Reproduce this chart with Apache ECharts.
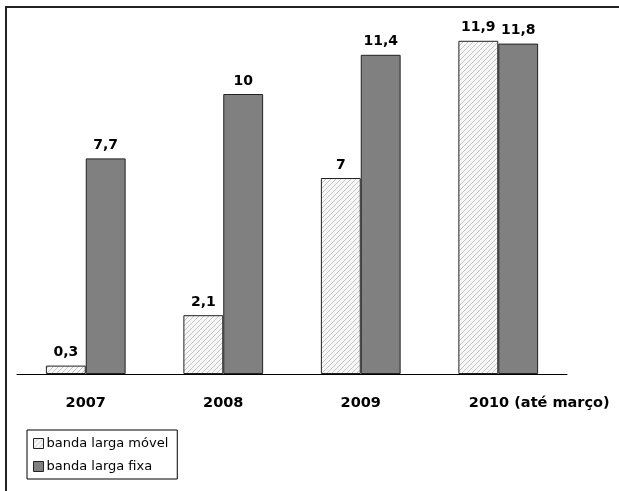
<!DOCTYPE html>
<html><head><meta charset="utf-8">
<script src="https://cdn.jsdelivr.net/npm/echarts@6/dist/echarts.min.js"></script>
<style>html,body{margin:0;padding:0;background:#fff}#c{width:619px;height:491px}</style>
</head><body><div id="c"></div>
<script>
var categories = ['2007', '2008', '2009', '2010 (até março)'];
var movel = [0.3, 2.1, 7, 11.9];
var fixa = [7.7, 10, 11.4, 11.8];
var seriesNames = ['banda larga móvel', 'banda larga fixa'];

function hatch() {
  var c = document.createElement('canvas');
  c.width = 5; c.height = 5;
  var g = c.getContext('2d');
  g.fillStyle = '#f7f7f7'; g.fillRect(0, 0, 5, 5);
  g.strokeStyle = '#c4c4c4'; g.lineWidth = 1;
  g.beginPath();
  g.moveTo(-1, 6); g.lineTo(6, -1);
  g.moveTo(-1, 1); g.lineTo(1, -1);
  g.moveTo(4, 6); g.lineTo(6, 4);
  g.stroke();
  return c;
}
var hatchFill = { image: hatch(), repeat: 'repeat' };
var font = 'DejaVu Sans, Verdana, sans-serif';
function fmt(p) { return String(p.value).replace('.', ','); }

var chart = echarts.init(document.getElementById('c'));
chart.setOption({
  animation: false,
  backgroundColor: '#fff',
  graphic: [{
    type: 'rect', shape: { x: 6, y: 7, width: 700, height: 600 },
    style: { fill: 'none', stroke: '#222', lineWidth: 2 }, z: 0
  }],
  grid: { left: 17, right: 52, top: 38, bottom: 117 },
  xAxis: {
    type: 'category',
    data: categories.map(function (c, i) {
      return i === 3 ? { value: c, textStyle: { padding: [0, 0, 0, 82] } } : c;
    }),
    axisLine: { lineStyle: { color: '#000', width: 1 } },
    axisTick: { show: false },
    axisLabel: { interval: 0, color: '#000', fontFamily: font, fontWeight: 'bold', fontSize: 14.5, margin: 22 }
  },
  yAxis: { type: 'value', min: 0, max: 12, show: false, splitLine: { show: false } },
  legend: {
    orient: 'vertical', left: 27, top: 430,
    data: seriesNames, icon: 'rect',
    itemWidth: 10, itemHeight: 10, itemGap: 10,
    borderColor: '#000', borderWidth: 1, padding: [7, 9, 6, 6],
    itemStyle: { borderColor: '#222', borderWidth: 1 },
    textStyle: { color: '#000', fontFamily: font, fontSize: 13, padding: [0, 0, 0, -2] }
  },
  series: [{
    name: seriesNames[0], type: 'bar', data: movel,
    barGap: '0%', barCategoryGap: '42%',
    itemStyle: { color: hatchFill, borderColor: '#222', borderWidth: 1 },
    label: { show: true, position: 'top', distance: 6, formatter: fmt, color: '#000', fontFamily: font, fontWeight: 'bold', fontSize: 14 }
  }, {
    name: seriesNames[1], type: 'bar', data: fixa,
    itemStyle: { color: '#808080', borderColor: '#222', borderWidth: 1 },
    label: { show: true, position: 'top', distance: 6, formatter: fmt, color: '#000', fontFamily: font, fontWeight: 'bold', fontSize: 14 }
  }]
});
</script></body></html>
